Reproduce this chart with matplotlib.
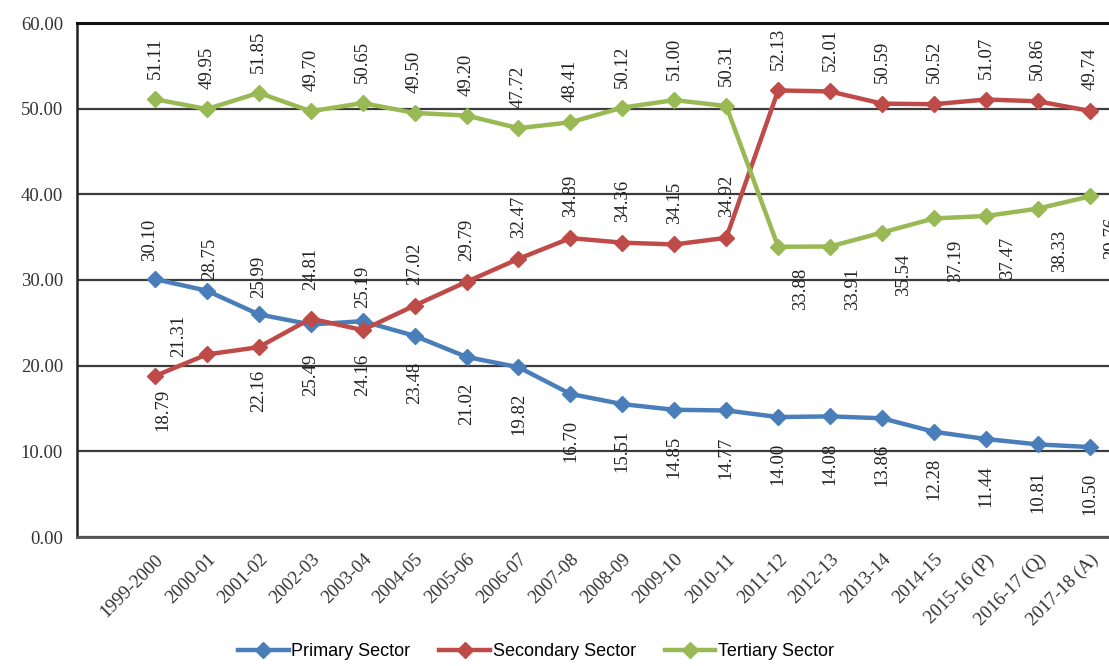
import matplotlib
matplotlib.use("Agg")
import matplotlib.pyplot as plt
import numpy as np

years = ["1999-2000", "2000-01", "2001-02", "2002-03", "2003-04", "2004-05",
         "2005-06", "2006-07", "2007-08", "2008-09", "2009-10", "2010-11",
         "2011-12", "2012-13", "2013-14", "2014-15", "2015-16 (P)",
         "2016-17 (Q)", "2017-18 (A)"]

primary = [30.10, 28.75, 25.99, 24.81, 25.19, 23.48, 21.02, 19.82, 16.70, 15.51,
           14.85, 14.77, 14.00, 14.08, 13.86, 12.28, 11.44, 10.81, 10.50]
secondary = [18.79, 21.31, 22.16, 25.49, 24.16, 27.02, 29.79, 32.47, 34.89, 34.36,
             34.15, 34.92, 52.13, 52.01, 50.59, 50.52, 51.07, 50.86, 49.74]
tertiary = [51.11, 49.95, 51.85, 49.70, 50.65, 49.50, 49.20, 47.72, 48.41, 50.12,
            51.00, 50.31, 33.88, 33.91, 35.54, 37.19, 37.47, 38.33, 39.76]

# label offsets (pixels, centre of rotated text relative to point)
prim_off = [(-5, 39), (3, 32), (0, 37), (0, 56), (0, 34)] + [(0, -47)] * 14
sec_off = [(8, -34), (-28, 19), (0, -44), (0, -56), (0, -45)] + [(0, 42)] * 14
ter_off = [(0, 41)] * 12 + [(22, -42)] * 7

SERIES = [
    ("Primary Sector", primary, "#4A7EBB", prim_off),
    ("Secondary Sector", secondary, "#BE4B48", sec_off),
    ("Tertiary Sector", tertiary, "#98B954", ter_off),
]

SERIF = ["Liberation Serif", "DejaVu Serif"]

fig = plt.figure(figsize=(11.09, 6.66), dpi=100)
W, H = 1109, 666
left, right, top, bottom = 77, 1109, 23, 537
ax = fig.add_axes([left / W, (H - bottom) / H, (right - left) / W, (bottom - top) / H])

x = np.arange(len(years))
for name, vals, col, offs in SERIES:
    ax.plot(x, vals, "-", color=col, lw=3.2, marker="D", ms=8,
            mec=col, mfc=col, label=name, zorder=4)
    for xi, v, (dx, dy) in zip(x, vals, offs):
        ax.annotate(f"{v:.2f}", (xi, v), xytext=(dx, dy), textcoords="offset pixels",
                    rotation=90, ha="center", va="center", fontsize=13.5,
                    family=SERIF, color="#222222", zorder=5)

ax.set_xlim(-1.5, 18.37)
ax.set_ylim(0, 60)
ax.set_yticks(np.arange(0, 61, 10))
ax.set_yticklabels([f"{t:.2f}" for t in np.arange(0, 61, 10)], family=SERIF,
                   fontsize=13.5, color="#333333")
ax.set_xticks(x)
ax.set_xticklabels(years, rotation=45, ha="right", rotation_mode="anchor",
                   family=SERIF, fontsize=13.5, color="#333333")
ax.tick_params(axis="y", length=0, pad=10)
ax.tick_params(axis="x", length=0, pad=10)

ax.grid(axis="y", color="#3c3c3c", lw=1.6, zorder=1)
ax.set_axisbelow(True)
ax.spines["right"].set_visible(False)
ax.spines["top"].set_color("#111111")
ax.spines["top"].set_linewidth(2.2)
ax.spines["left"].set_color("#222222")
ax.spines["left"].set_linewidth(1.8)
ax.spines["bottom"].set_color("#555555")
ax.spines["bottom"].set_linewidth(2.0)

fig.legend(loc="center", bbox_to_anchor=(536 / W, 1 - 652 / H), ncol=3,
           frameon=False, handlelength=2.8, handletextpad=0.15, columnspacing=1.6,
           prop={"family": ["Liberation Sans Narrow", "Liberation Sans"], "size": 13})

fig.savefig("out.png", dpi=100)
